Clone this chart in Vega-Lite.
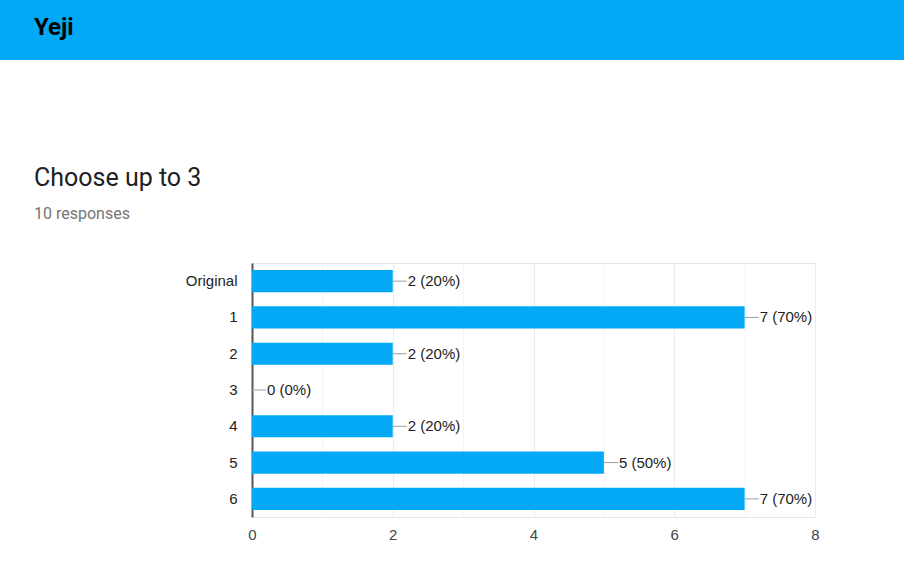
{
  "$schema": "https://vega.github.io/schema/vega-lite/v6.json",
  "background": "white",
  "padding": 0,
  "spacing": 203,
  "bounds": "flush",
  "config": {
    "font": "Liberation Sans",
    "view": {"stroke": null}
  },
  "vconcat": [
    {
      "width": 904,
      "height": 60,
      "data": {"values": [{"t": "Yeji"}]},
      "mark": {"type": "rect", "color": "#03A9F4"},
      "encoding": {},
      "title": {
        "text": "Yeji",
        "anchor": "start",
        "frame": "group",
        "orient": "top",
        "dx": 34,
        "offset": -40,
        "font": "Roboto",
        "fontSize": 24,
        "fontWeight": "bold",
        "color": "#000000"
      }
    },
    {
      "hconcat": [
        {
          "width": 252,
          "height": 254,
          "data": {"values": []},
          "mark": {"type": "rect", "opacity": 0},
          "encoding": {}
        },
        {
          "width": 563,
          "height": 254,
          "view": {"stroke": "#e6e6e6"},
          "title": {
            "text": "Choose up to 3",
            "subtitle": "10 responses",
            "anchor": "start",
            "frame": "group",
            "dx": -218,
            "offset": 41,
            "font": "Roboto",
            "fontSize": 25,
            "fontWeight": "normal",
            "color": "#202124",
            "subtitleFont": "Roboto",
            "subtitleFontSize": 16,
            "subtitleColor": "#757575",
            "subtitlePadding": 15
          },
          "data": {
            "values": [
              {"option": "Original", "count": 2, "label": "2 (20%)"},
              {"option": "1", "count": 7, "label": "7 (70%)"},
              {"option": "2", "count": 2, "label": "2 (20%)"},
              {"option": "3", "count": 0, "label": "0 (0%)"},
              {"option": "4", "count": 2, "label": "2 (20%)"},
              {"option": "5", "count": 5, "label": "5 (50%)"},
              {"option": "6", "count": 7, "label": "7 (70%)"}
            ]
          },
          "encoding": {
            "y": {
              "field": "option",
              "type": "nominal",
              "sort": null,
              "scale": {"paddingInner": 0.39, "paddingOuter": 0.195},
              "axis": {
                "title": null,
                "ticks": false,
                "domain": true,
                "domainColor": "#555555",
                "domainWidth": 2,
                "labelPadding": 15,
                "labelFontSize": 15,
                "labelColor": "#222222",
                "labelFont": "Liberation Sans"
              }
            },
            "x": {
              "field": "count",
              "type": "quantitative",
              "scale": {"domain": [0, 8], "nice": false},
              "axis": {
                "title": null,
                "values": [0, 1, 2, 3, 4, 5, 6, 7, 8],
                "labelExpr": "datum.value % 2 === 0 ? datum.label : ''",
                "labelFlush": false,
                "grid": true,
                "gridColor": {"condition": {"test": "datum.value % 2 === 0", "value": "#ebebeb"}, "value": "#f5f5f5"},
                "domain": false,
                "ticks": false,
                "labelPadding": 10,
                "labelFontSize": 15,
                "labelColor": "#444444",
                "labelFont": "Liberation Sans"
              }
            }
          },
          "layer": [
            {
              "mark": {"type": "bar", "color": "#03A9F4"}
            },
            {
              "mark": {"type": "rule", "color": "#9e9e9e", "strokeWidth": 1, "x2Offset": 14},
              "encoding": {"x2": {"field": "count"}}
            },
            {
              "mark": {"type": "text", "align": "left", "baseline": "middle", "dx": 15, "fontSize": 15, "color": "#222222", "font": "Liberation Sans"},
              "encoding": {"text": {"field": "label"}}
            }
          ]
        }
      ],
      "spacing": 0,
      "bounds": "flush"
    }
  ]
}
